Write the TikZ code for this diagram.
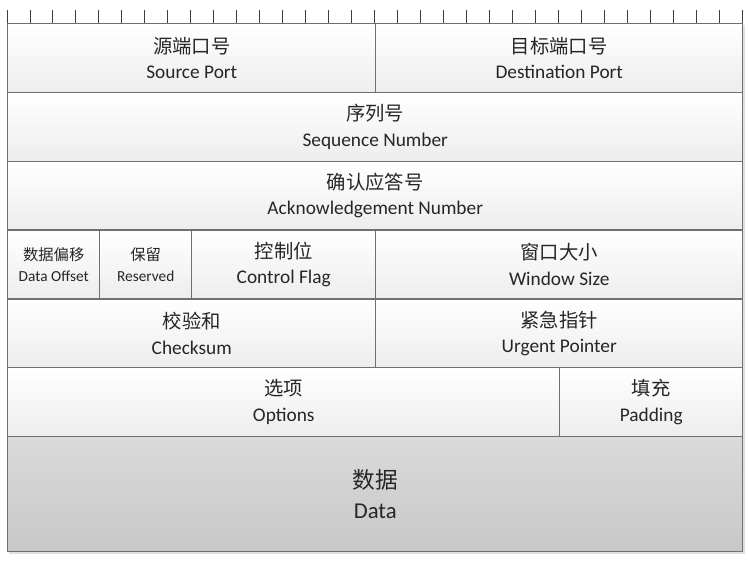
\documentclass[tikz,border=0pt]{standalone}
\usepackage{fontspec}
\setmainfont{Carlito}
\newfontfamily\cjk{Noto Sans CJK SC}
\definecolor{bordergray}{HTML}{707070}
\definecolor{fieldbot}{HTML}{EDEDED}
\definecolor{datatop}{HTML}{DADADA}
\definecolor{databot}{HTML}{C8C8C8}
\definecolor{txt}{HTML}{262626}
\definecolor{tickcol}{HTML}{404040}
\begin{document}
\begin{tikzpicture}[x=0.75pt,y=-0.75pt,
  field/.style={draw=bordergray, line width=1.1pt, top color=white, bottom color=fieldbot,
    anchor=north west, inner sep=0pt, align=center, text=txt,
    font=\fontsize{14.5}{19}\selectfont},
  smallfield/.style={field, font=\fontsize{11.5}{15.5}\selectfont},
  datafield/.style={field, top color=datatop, bottom color=databot,
    font=\fontsize{17}{22}\selectfont},
  wh/.style 2 args={minimum width=#1*0.75pt, minimum height=#2*0.75pt},
  tickline/.style={draw=tickcol, line width=0.7pt}]
\useasboundingbox (0,0) rectangle (748,566);
% faint shadow
\fill[black, opacity=0.12] (9,25) rectangle (745,554);
\fill[white] (7,23) rectangle (742,551);
% fields
\node[field, wh={368}{68.8}] (sp) at (7,23) {{\cjk 源端口号}\\Source Port};
\node[field, wh={367}{68.8}] (dp) at (375,23) {{\cjk 目标端口号}\\Destination Port};
\node[field, wh={735}{68.8}] (seq) at (7,91.8) {{\cjk 序列号}\\Sequence Number};
\node[field, wh={735}{68.8}] (ack) at (7,160.6) {{\cjk 确认应答号}\\Acknowledgement Number};
\node[smallfield, wh={92}{68.8}] (off) at (7,229.4) {{\cjk 数据偏移}\\Data Offset};
\node[smallfield, wh={92}{68.8}] (res) at (99,229.4) {{\cjk 保留}\\Reserved};
\node[field, wh={184}{68.8}] (flag) at (191,229.4) {{\cjk 控制位}\\Control Flag};
\node[field, wh={367}{68.8}] (win) at (375,229.4) {{\cjk 窗口大小}\\Window Size};
\node[field, wh={368}{68.8}] (chk) at (7,298.2) {{\cjk 校验和}\\Checksum};
\node[field, wh={367}{68.8}] (urg) at (375,298.2) {{\cjk 紧急指针}\\Urgent Pointer};
\node[field, wh={552}{68.8}] (opt) at (7,367) {{\cjk 选项}\\Options};
\node[field, wh={183}{68.8}] (pad) at (559,367) {{\cjk 填充}\\Padding};
\node[datafield, wh={735}{115}] (data) at (7,435.8) {{\cjk 数据}\\Data};
% bit ruler
\foreach \i in {0,...,32}
  \draw[tickline] ({7+\i*22.97},10) -- ({7+\i*22.97},23);
\end{tikzpicture}
\end{document}
